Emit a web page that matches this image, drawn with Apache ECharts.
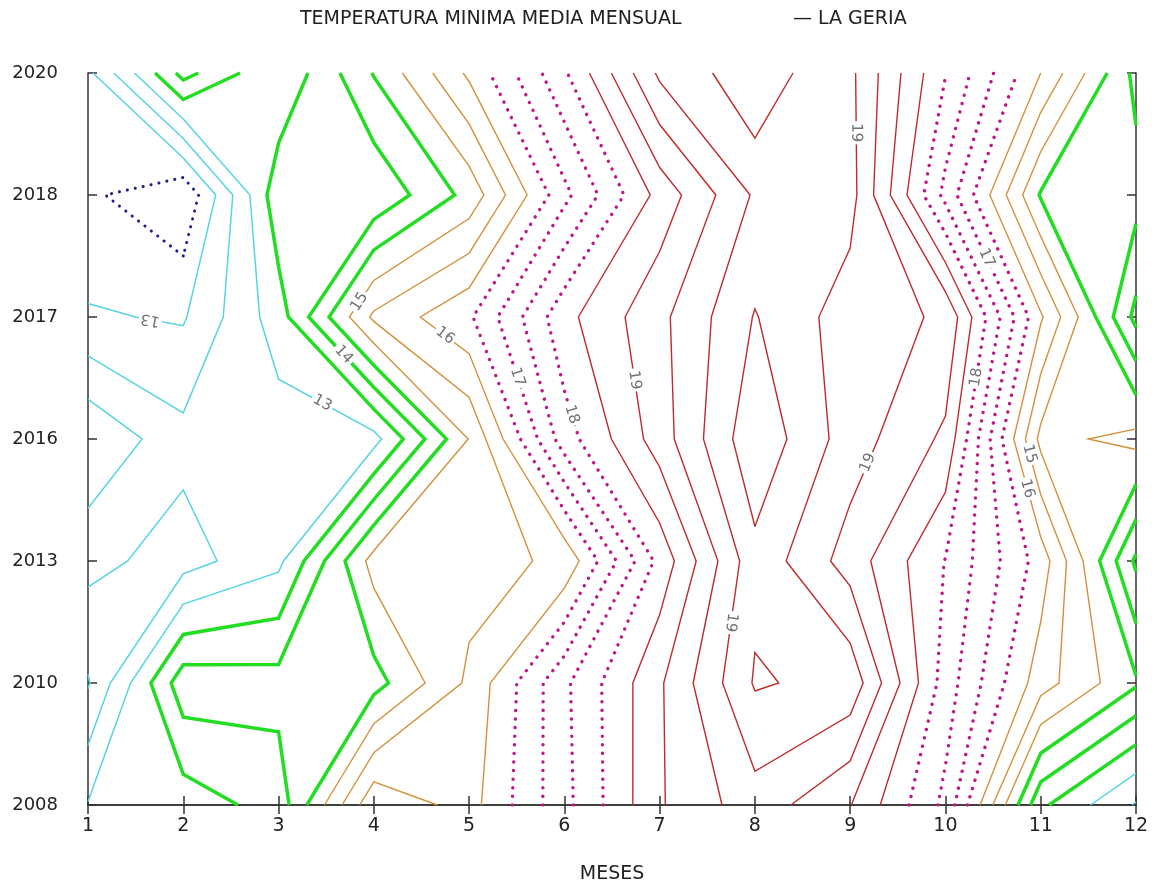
<!DOCTYPE html>
<html><head><meta charset="utf-8">
<script src="https://cdn.jsdelivr.net/npm/echarts@6/dist/echarts.min.js"></script>
<style>html,body{margin:0;padding:0;background:#fff}#c{width:1155px;height:882px}</style>
</head><body><div id="c"></div>
<script>
// ---------- DATA ----------
const months = [1,2,3,4,5,6,7,8,9,10,11,12];
const years = ['2008','2010','2013','2016','2017','2018','2020'];
// mean monthly minimum temperature (°C) per year, Jan..Dec
const t2008 = [13.03, 13.23, 13.70, 16.40, 15.80, 17.35, 18.95, 19.79, 19.02, 17.37, 13.60, 12.45];
const t2010 = [11.95, 14.30, 14.20, 14.30, 15.60, 17.40, 18.93, 20.55, 20.35, 17.77, 15.72, 14.57];
const t2013 = [12.65, 12.29, 12.88, 15.20, 15.30, 15.60, 18.16, 20.35, 19.28, 17.98, 16.28, 13.40];
const t2016 = [13.46, 12.65, 12.75, 12.82, 15.02, 17.77, 19.25, 20.88, 19.75, 18.90, 14.85, 15.15];
const t2017 = [12.05, 11.95, 13.26, 15.60, 16.42, 18.35, 19.37, 20.53, 19.74, 19.43, 16.07, 13.35];
const t2018 = [11.60, 11.05, 13.84, 13.60, 14.66, 16.86, 18.68, 20.07, 20.20, 17.35, 14.45, 14.20];
const t2020 = [11.88, 14.18, 13.04, 14.53, 16.10, 17.93, 20.10, 19.92, 20.12, 18.02, 16.00, 13.85];
const contourLevels = [11.5,12,12.5,13,13.5,14,14.5,15,15.5,16,16.5,17,17.5,18,18.5,19,19.5,20,20.5];
// contour labels as printed: text and approximate place (month, year-row index)
const labelText  = ['13','13','14','15','16','17','18','19','19','17','18','19','15','16','19'];
const labelMonth = [1.65,3.49,3.68,3.82,4.74,5.48,6.07,6.71,9.08,10.42,10.29,9.29,10.94,10.80,7.71];
const labelRow   = [3.96,3.34,3.69,4.14,3.84,3.50,3.20,3.48,5.51,4.48,3.51,2.77,2.89,2.58,1.50];
const labelFlip  = [true,false,false,false,false,false,false,false,false,false,false,false,false,false,true];

// ---------- CONTOURING ----------
const grid = [t2008, t2010, t2013, t2016, t2017, t2018, t2020];
// saddle cells (row_col_level) that the original plot joins the other way
const saddleFlip = {'1_0_12.5':true, '5_6_20':true};
function contour(L) {
  const R = grid.length, C = grid[0].length;
  const segs = [];
  const up = v => v > L;
  for (let r = 0; r < R - 1; r++) {
    for (let c = 0; c < C - 1; c++) {
      const a = grid[r][c], b = grid[r][c+1], cc = grid[r+1][c+1], d = grid[r+1][c];
      const E = [
        {k:'h'+r+'_'+c, v1:a, v2:b, x0:months[c], y0:r, dx:1, dy:0},
        {k:'v'+r+'_'+(c+1), v1:b, v2:cc, x0:months[c+1], y0:r, dx:0, dy:1},
        {k:'h'+(r+1)+'_'+c, v1:d, v2:cc, x0:months[c], y0:r+1, dx:1, dy:0},
        {k:'v'+r+'_'+c, v1:a, v2:d, x0:months[c], y0:r, dx:0, dy:1}
      ];
      const cr = E.filter(e => up(e.v1) !== up(e.v2)).map(e => {
        const t = (L - e.v1) / (e.v2 - e.v1);
        return {k:e.k, p:[e.x0 + t*e.dx, e.y0 + t*e.dy]};
      });
      if (cr.length === 2) segs.push([cr[0], cr[1]]);
      else if (cr.length === 4) {
        const center = (a+b+cc+d)/4;
        let joinA = up(center) === up(a);
        if (saddleFlip[r+'_'+c+'_'+L]) joinA = !joinA;
        const [B, Rt, T, Lf] = cr;
        if (joinA) { segs.push([B, Rt]); segs.push([T, Lf]); }
        else { segs.push([B, Lf]); segs.push([Rt, T]); }
      }
    }
  }
  const map = {};
  segs.forEach((s, i) => s.forEach(p => { (map[p.k] = map[p.k] || []).push(i); }));
  const used = new Array(segs.length).fill(false);
  const lines = [];
  function extend(chain, key) {
    while (true) {
      const nxt = (map[key] || []).find(j => !used[j]);
      if (nxt === undefined) break;
      used[nxt] = true;
      const s = segs[nxt];
      const other = s[0].k === key ? s[1] : s[0];
      chain.push(other.p);
      key = other.k;
    }
  }
  for (let i = 0; i < segs.length; i++) {
    if (used[i]) continue;
    used[i] = true;
    const fwd = [segs[i][0].p, segs[i][1].p];
    extend(fwd, segs[i][1].k);
    const back = [];
    extend(back, segs[i][0].k);
    lines.push(back.reverse().concat(fwd));
  }
  return lines;
}

function styleFor(L) {
  if (L < 12) return {color:'#1c1c8c', width:3, type:[0.1,8], cap:'round'};
  if (L <= 13) return {color:'#55d4e2', width:1.5, type:'solid'};
  if (L <= 14.5) return {color:'#22dd22', width:3.5, type:'solid'};
  if (L <= 16) return {color:'#d4913c', width:1.4, type:'solid'};
  if (L <= 18) return {color:'#c01882', width:3.4, type:[0.1,8.5], cap:'round'};
  return {color:'#c02a2a', width:1.4, type:'solid'};
}

const series = [];
const allLines = [];
contourLevels.forEach(L => {
  const st = styleFor(L);
  contour(L).forEach(pts => {
    allLines.push(pts);
    series.push({
      type:'line', data:pts, showSymbol:false, silent:true, animation:false,
      clip:true, z:3,
      lineStyle:{color:st.color, width:st.width, type:st.type, cap:st.cap || 'butt', join:'miter'}
    });
  });
});

const labels = labelText.map((txt, i) => {
  let best = null, bd = Infinity;
  allLines.forEach(pts => {
    for (let j = 0; j < pts.length - 1; j++) {
      const p = pts[j], q = pts[j+1];
      const ax = (q[0]-p[0])*95.3, ay = (q[1]-p[1])*122;
      const bx = (labelMonth[i]-p[0])*95.3, by = (labelRow[i]-p[1])*122;
      const len2 = ax*ax + ay*ay;
      let t = len2 ? (ax*bx + ay*by)/len2 : 0;
      t = Math.max(0, Math.min(1, t));
      const dx = bx - t*ax, dy = by - t*ay;
      const d = dx*dx + dy*dy;
      if (d < bd) { bd = d; best = {x:p[0]+t*(q[0]-p[0]), y:p[1]+t*(q[1]-p[1]), p0:p, p1:q}; }
    }
  });
  return {text:txt, flip:labelFlip[i], ...best};
});

series.push({
  type:'custom', coordinateSystem:'cartesian2d', silent:true, animation:false, z:10, clip:false,
  data: labels.map((l, i) => [l.x, l.y, i]),
  encode:{x:0, y:1},
  renderItem: function(params, api) {
    const l = labels[api.value(2)];
    const pos = api.coord([l.x, l.y]);
    const s0 = api.coord(l.p0), s1 = api.coord(l.p1);
    let ang = Math.atan2(s1[1]-s0[1], s1[0]-s0[0]);
    if (ang > Math.PI/2) ang -= Math.PI;
    if (ang <= -Math.PI/2) ang += Math.PI;
    if (l.flip) ang += Math.PI;
    return {
      type:'text', x:pos[0], y:pos[1], rotation:-ang,
      style:{text:l.text, fill:'#707070', font:'15px "DejaVu Sans"', align:'center', verticalAlign:'middle',
             backgroundColor:'#ffffff', padding:[0,2]}
    };
  }
});

const axisFont = '"DejaVu Sans", sans-serif';
const chart = echarts.init(document.getElementById('c'), null, {renderer:'canvas'});
chart.setOption({
  backgroundColor:'#ffffff',
  animation:false,
  grid:{left:88, right:19, top:73, bottom:77, containLabel:false, outerBoundsMode:'none'},
  graphic:[
    {type:'text', left:300, top:10, style:{text:'TEMPERATURA MINIMA MEDIA MENSUAL', fill:'#222', font:'19px ' + axisFont}},
    {type:'text', left:793, top:10, style:{text:'— LA GERIA', fill:'#222', font:'19px ' + axisFont}}
  ],
  xAxis:[
    {type:'value', min:1, max:12, interval:1, position:'bottom',
     name:'MESES', nameLocation:'middle', nameGap:60,
     nameTextStyle:{fontSize:19, color:'#222', fontFamily:axisFont},
     axisLine:{show:true, lineStyle:{color:'#333', width:1.5}},
     axisTick:{show:true, inside:true, length:9, lineStyle:{color:'#333', width:1.5}},
     axisLabel:{fontSize:19, color:'#222', margin:12, fontFamily:axisFont},
     splitLine:{show:false}},
    {type:'value', min:1, max:12, interval:1, position:'top',
     axisLine:{show:true, lineStyle:{color:'#333', width:1.5}},
     axisTick:{show:true, inside:true, length:9, lineStyle:{color:'#333', width:1.5}},
     axisLabel:{show:false}, splitLine:{show:false}}
  ],
  yAxis:[
    {type:'value', min:0, max:years.length-1, interval:1, position:'left',
     axisLine:{show:true, lineStyle:{color:'#333', width:1.5}},
     axisTick:{show:true, inside:true, length:9, lineStyle:{color:'#333', width:1.5}},
     axisLabel:{fontSize:18, color:'#222', margin:30, fontFamily:axisFont, formatter:v => years[v] || ''},
     splitLine:{show:false}},
    {type:'value', min:0, max:years.length-1, interval:1, position:'right',
     axisLine:{show:true, lineStyle:{color:'#333', width:1.5}},
     axisTick:{show:true, inside:true, length:9, lineStyle:{color:'#333', width:1.5}},
     axisLabel:{show:false}, splitLine:{show:false}}
  ],
  series: series
});
</script></body></html>
